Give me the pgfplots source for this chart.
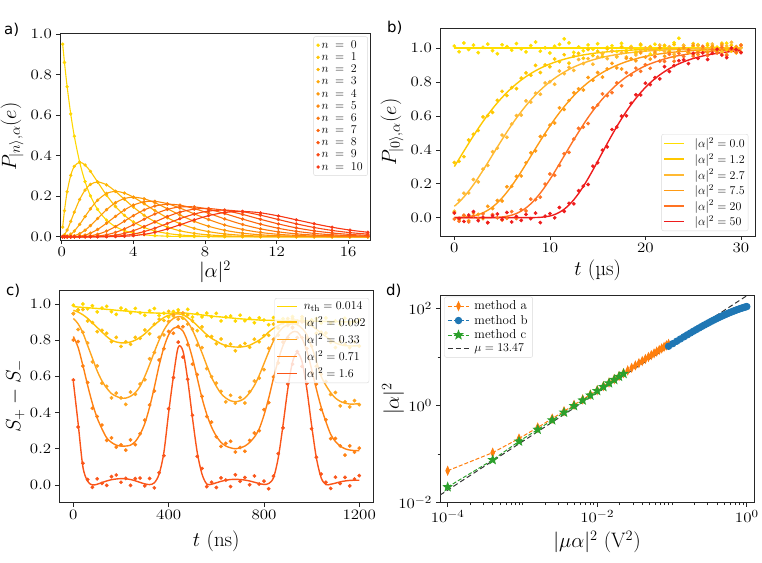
\documentclass[border=0pt]{standalone}
\usepackage{pgfplots}
\pgfplotsset{compat=1.18}
\usepackage{pgfplotstable}
\usepackage{fontspec}
\newfontfamily\labelfont{DejaVu Sans}

\definecolor{ca0}{RGB}{255,215,0}
\definecolor{ca1}{RGB}{255,199,2}
\definecolor{ca2}{RGB}{254,183,4}
\definecolor{ca3}{RGB}{254,167,6}
\definecolor{ca4}{RGB}{253,151,8}
\definecolor{ca5}{RGB}{253,135,10}
\definecolor{ca6}{RGB}{252,119,12}
\definecolor{ca7}{RGB}{252,103,14}
\definecolor{ca8}{RGB}{251,87,16}
\definecolor{ca9}{RGB}{250,71,18}
\definecolor{ca10}{RGB}{248,55,20}
\definecolor{cb0}{RGB}{255,222,0}
\definecolor{cb1}{RGB}{255,200,0}
\definecolor{cb2}{RGB}{255,185,50}
\definecolor{cb3}{RGB}{255,155,20}
\definecolor{cb4}{RGB}{255,115,35}
\definecolor{cb5}{RGB}{238,28,28}
\definecolor{cc0}{RGB}{255,215,0}
\definecolor{cc1}{RGB}{255,192,10}
\definecolor{cc2}{RGB}{255,165,30}
\definecolor{cc3}{RGB}{255,130,20}
\definecolor{cc4}{RGB}{250,85,25}
\definecolor{tabblue}{HTML}{1F77B4}
\definecolor{taborange}{HTML}{FF7F0E}
\definecolor{tabgreen}{HTML}{2CA02C}

\pgfdeclareplotmark{fstar}{%
 \pgfpathmoveto{\pgfpointpolar{90}{\pgfplotmarksize}}%
 \pgfpathlineto{\pgfpointpolar{126}{0.42*\pgfplotmarksize}}%
 \pgfpathlineto{\pgfpointpolar{162}{\pgfplotmarksize}}%
 \pgfpathlineto{\pgfpointpolar{198}{0.42*\pgfplotmarksize}}%
 \pgfpathlineto{\pgfpointpolar{234}{\pgfplotmarksize}}%
 \pgfpathlineto{\pgfpointpolar{270}{0.42*\pgfplotmarksize}}%
 \pgfpathlineto{\pgfpointpolar{306}{\pgfplotmarksize}}%
 \pgfpathlineto{\pgfpointpolar{342}{0.42*\pgfplotmarksize}}%
 \pgfpathlineto{\pgfpointpolar{18}{\pgfplotmarksize}}%
 \pgfpathlineto{\pgfpointpolar{54}{0.42*\pgfplotmarksize}}%
 \pgfpathclose\pgfusepathqfillstroke}

\pgfplotsset{
 myax/.style={scale only axis, anchor=south west,
  axis line style={line width=0.6pt, black!85},
  tick style={line width=0.6pt, black!85},
  tick align=outside, tick pos=left,
  major tick length=4bp, minor tick length=2.5bp,
  ticklabel style={font=\fontsize{15}{17}\selectfont, xscale=1.18},
  /pgf/number format/set thousands separator={},
  label style={font=\fontsize{21}{24}\selectfont, inner sep=0pt},
  legend cell align=left,
  legend style={font=\fontsize{13}{15}\selectfont, draw=black!15, rounded corners=2pt, fill=white}},
 dec1/.style={yticklabel style={/pgf/number format/.cd, fixed, fixed zerofill, precision=1}},
}

% panel a: Poisson-like populations
\pgfplotstableread{
x p0 p1 p2 p3 p4 p5 p6 p7 p8 p9 p10
0.05 .9512 .0476 .0012 0 0 0 0 0 0 0 0
0.15 .8607 .1291 .0097 .0005 0 0 0 0 0 0 0
0.3 .7408 .2222 .0333 .0033 .0003 0 0 0 0 0 0
0.5 .6065 .3033 .0758 .0126 .0016 .0002 0 0 0 0 0
0.7 .4966 .3476 .1217 .0284 .0050 .0007 .0001 0 0 0 0
1.0 .3679 .3679 .1839 .0613 .0153 .0031 .0005 .0001 0 0 0
1.3 .2725 .3543 .2303 .0998 .0324 .0084 .0018 .0003 .0001 0 0
1.6 .2019 .3230 .2584 .1378 .0551 .0176 .0047 .0011 .0002 0 0
2.0 .1353 .2707 .2707 .1804 .0902 .0361 .0120 .0034 .0009 .0002 0
2.5 .0821 .2052 .2565 .2138 .1336 .0668 .0278 .0099 .0031 .0009 .0002
3.0 .0498 .1494 .2240 .2240 .1680 .1008 .0504 .0216 .0081 .0027 .0008
3.5 .0302 .1057 .1850 .2158 .1888 .1322 .0771 .0385 .0169 .0066 .0023
4.0 .0183 .0733 .1465 .1954 .1954 .1563 .1042 .0595 .0298 .0132 .0053
4.6 .0100 .0462 .1063 .1631 .1875 .1725 .1323 .0869 .0500 .0255 .0118
5.2 .0055 .0287 .0746 .1293 .1681 .1748 .1515 .1125 .0731 .0423 .0220
5.9 .0027 .0162 .0477 .0938 .1383 .1632 .1605 .1352 .0997 .0654 .0386
6.6 .0014 .0090 .0296 .0652 .1075 .1419 .1561 .1472 .1215 .0891 .0588
7.4 .0006 .0045 .0167 .0413 .0763 .1130 .1393 .1473 .1363 .1120 .0829
8.2 .0003 .0023 .0092 .0253 .0518 .0850 .1161 .1360 .1394 .1270 .1042
9.1 .0001 .0010 .0046 .0140 .0319 .0581 .0881 .1145 .1302 .1317 .1198
10.1 0 .0004 .0021 .0071 .0178 .0360 .0606 .0874 .1104 .1239 .1251
11.1 0 .0002 .0009 .0034 .0096 .0212 .0392 .0622 .0863 .1064 .1182
12.1 0 .0001 .0004 .0016 .0050 .0120 .0242 .0418 .0633 .0851 .1029
13.1 0 0 .0002 .0008 .0025 .0066 .0143 .0268 .0439 .0639 .0837
14.1 0 0 .0001 .0004 .0012 .0035 .0082 .0165 .0292 .0457 .0644
15.1 0 0 0 .0002 .0006 .0018 .0046 .0098 .0186 .0312 .0470
16.1 0 0 0 .0001 .0003 .0009 .0025 .0057 .0114 .0204 .0328
17.1 0 0 0 0 .0001 .0005 .0013 .0032 .0068 .0129 .0221
}\tabA

% panel b: f = fit, d = data
\pgfplotstableread{
t f0 d0 f1 d1 f2 d2 f3 d3 f4 d4 f5 d5
0 1 1.012 .3012 .325 .0672 .038 .0006 .029 0 -.008 0 .027
0.5 1 .979 .3468 .332 .0923 .103 .0013 -.012 0 -.021 0 -.004
1 1 1.030 .3928 .360 .1221 .144 .0029 .013 0 .014 0 -.022
1.5 1 .992 .4383 .458 .1563 .146 .0058 -.018 0 -.025 0 .015
2 1 1.018 .4830 .492 .1944 .225 .0106 .028 0 .011 0 .036
2.5 1 .973 .5260 .514 .2357 .211 .0180 .019 0 -.006 0 -.018
3 1 1.005 .5673 .594 .2794 .286 .0289 -.006 .0001 .023 0 .002
3.5 1 1.024 .6063 .602 .3244 .308 .0438 .067 .0003 -.029 0 -.029
4 1 .985 .6431 .621 .3703 .389 .0633 .054 .0009 .018 0 .011
4.5 1 .967 .6773 .692 .4162 .410 .0876 .101 .0020 -.001 0 .022
5 1 1.020 .7091 .745 .4613 .487 .1166 .098 .0043 -.014 0 -.010
5.5 1 1.009 .7383 .720 .5053 .474 .1502 .182 .0083 -.004 0 .031
6 1 .988 .7651 .767 .5475 .552 .1877 .185 .0149 .036 0 -.025
6.5 1 1.027 .7896 .761 .5877 .602 .2283 .244 .0248 -.005 0 .007
7 1 .996 .8117 .823 .6254 .605 .2715 .246 .0389 .047 0 -.016
7.5 1 .978 .8319 .854 .6609 .689 .3164 .324 .0578 .040 0 .019
8 1 1.015 .8501 .840 .6940 .681 .3624 .383 .0818 .109 .0003 -.006
8.5 1 1.036 .8665 .898 .7244 .734 .4084 .394 .1110 .106 .0009 .027
9 1 .982 .8812 .856 .7523 .728 .4536 .479 .1451 .121 .0022 -.029
9.5 1 1.002 .8944 .901 .7779 .795 .4978 .487 .1834 .198 .0050 .009
10 1 .971 .9062 .890 .8012 .802 .5402 .546 .2254 .258 .0101 .024
10.5 1 1.011 .9168 .936 .8224 .787 .5810 .558 .2704 .250 .0186 -.001
11 1 1.022 .9262 .920 .8416 .865 .6192 .648 .3173 .308 .0317 .060
11.5 1 1.055 .9345 .961 .8587 .850 .6551 .638 .3650 .377 .0501 .037
12 1 1.031 .9420 .911 .8742 .887 .6883 .691 .4123 .385 .0747 .085
12.5 1 .975 .9487 .953 .8882 .869 .7194 .737 .4593 .463 .1055 .082
13 1 1.007 .9545 .969 .9005 .933 .7475 .760 .5046 .527 .1423 .159
13.5 1 .984 .9598 .940 .9118 .909 .7738 .753 .5488 .534 .1845 .186
14 1 1.019 .9644 .992 .9217 .938 .7973 .827 .5910 .555 .2310 .196
14.5 1 .994 .9686 .956 .9307 .905 .8191 .811 .6300 .648 .2808 .304
15 1 1.026 .9722 .982 .9385 .947 .8384 .856 .6663 .664 .3326 .324
15.5 1 .969 .9754 .951 .9456 .967 .8562 .829 .7005 .730 .3851 .398
16 1 1.004 .9782 .995 .9518 .938 .8717 .877 .7305 .720 .4373 .418
16.5 1 1.014 .9807 .982 .9572 .982 .8856 .910 .7588 .737 .4880 .520
17 1 .980 .9830 .948 .9621 .951 .8983 .883 .7851 .795 .5370 .534
17.5 1 1.028 .9850 1.008 .9666 .973 .9098 .877 .8090 .778 .5833 .599
18 1 .987 .9868 .978 .9705 .948 .9201 .940 .8303 .855 .6267 .601
18.5 1 1.010 .9883 1.001 .9737 1.003 .9291 .938 .8487 .842 .6669 .675
19 1 .976 .9897 .971 .9768 .960 .9368 .925 .8659 .882 .7038 .725
19.5 1 1.017 .9909 1.023 .9795 .983 .9446 .972 .8816 .863 .7376 .724
20 1 1.001 .9920 .989 .9821 1.000 .9510 .947 .8958 .902 .7681 .793
20.5 1 .965 .9929 1.009 .9841 .996 .9565 .935 .9072 .881 .7956 .785
21 1 1.023 .9937 .968 .9861 .965 .9618 .977 .9176 .949 .8201 .826
21.5 1 .991 .9944 1.002 .9876 1.018 .9660 1.002 .9270 .923 .8421 .819
22 1 1.013 .9951 1.016 .9890 .981 .9697 .952 .9361 .922 .8616 .891
22.5 1 .981 .9957 .982 .9902 1.008 .9731 .975 .9438 .964 .8789 .862
23 1 1.032 .9962 1.021 .9914 .964 .9763 .947 .9512 .923 .8940 .897
23.5 1 1.058 .9966 .986 .9923 .997 .9790 .990 .9560 .969 .9075 .926
24 1 1.016 .9970 1.003 .9932 1.017 .9814 1.003 .9608 .951 .9193 .931
24.5 1 .974 .9973 .974 .9941 .979 .9837 .974 .9658 .990 .9297 .909
25 1 1.008 .9976 1.027 .9949 .962 .9858 1.017 .9704 .953 .9387 .969
25.5 1 1.021 .9978 .981 .9954 1.015 .9874 .962 .9735 .973 .9465 .939
26 1 .986 .9982 1.001 .9959 1.005 .9888 .996 .9763 1.011 .9536 .972
26.5 1 1.025 .9984 1.016 .9964 .984 .9899 .974 .9793 .956 .9596 .933
27 1 .989 .9986 1.011 .9968 1.024 .9910 1.010 .9822 .991 .9649 .970
27.5 1 1.006 .9987 .978 .9972 .993 .9921 .986 .9842 .971 .9695 .994
28 1 .977 .9989 1.029 .9976 .976 .9932 1.019 .9861 1.005 .9735 .959
28.5 1 1.029 .9990 .991 .9979 1.013 .9940 .963 .9877 .956 .9769 .944
29 1 .983 .9991 1.017 .9981 1.034 .9947 .999 .9893 .992 .9800 1.000
29.5 1 1.003 .9992 .972 .9983 .980 .9953 1.009 .9906 .975 .9826 .992
30 1 1.018 .9993 1.004 .9985 1.001 .9959 .976 .9918 1.018 .9849 .973
}\tabB

% panel c: f = fit, d = data
\pgfplotstableread{
t f0 d0 f1 d1 f2 d2 f3 d3 f4 d4
0 .985 .993 .965 .947 .92 .946 .82 .801 .57 .58
20 .983 .968 .955 .967 .89 .859 .76 .792 .34 .32
40 .981 1.0 .94 .969 .84 .844 .66 .657 .10 .12
60 .979 .973 .92 .906 .77 .784 .55 .566 .02 .03
80 .977 .990 .895 .897 .70 .680 .45 .424 0 -.013
100 .975 .956 .87 .847 .63 .658 .37 .378 .004 .034
120 .973 .977 .845 .854 .575 .562 .31 .331 .013 .009
140 .970 .987 .82 .838 .535 .545 .26 .246 .022 -.002
160 .968 .957 .80 .792 .505 .481 .235 .260 .029 .046
180 .965 .942 .79 .815 .49 .507 .22 .209 .033 .055
200 .963 .977 .785 .765 .48 .481 .215 .221 .035 .015
220 .961 .967 .785 .791 .48 .445 .215 .192 .034 .036
240 .959 .951 .79 .777 .49 .513 .22 .249 .030 -.002
260 .956 .975 .80 .815 .51 .501 .24 .223 .023 .035
280 .954 .951 .815 .810 .545 .558 .28 .283 .014 .038
300 .952 .937 .835 .856 .60 .581 .34 .358 .006 -.005
320 .951 .962 .86 .835 .665 .697 .43 .442 .002 .036
340 .950 .975 .885 .888 .735 .732 .54 .519 .012 -.016
360 .949 .936 .905 .916 .80 .816 .66 .690 .06 .068
380 .948 .949 .925 .909 .855 .829 .76 .752 .18 .162
400 .948 .928 .937 .959 .895 .903 .83 .848 .40 .421
420 .950 .958 .943 .933 .92 .941 .865 .838 .60 .593
440 .952 .967 .945 .953 .93 .916 .87 .875 .76 .789
460 .951 .944 .94 .921 .925 .950 .85 .874 .74 .706
480 .948 .970 .925 .939 .90 .889 .79 .775 .58 .584
500 .945 .927 .905 .906 .855 .861 .70 .667 .37 .385
520 .942 .947 .88 .852 .795 .772 .59 .610 .18 .158
540 .939 .928 .855 .873 .73 .759 .48 .489 .06 .091
560 .936 .949 .83 .823 .66 .643 .39 .378 .005 -.009
580 .933 .929 .81 .820 .595 .598 .32 .347 .004 .015
600 .930 .948 .795 .780 .545 .563 .27 .266 .012 -.014
620 .928 .906 .78 .806 .505 .517 .235 .213 .02 .039
640 .925 .928 .77 .768 .48 .459 .215 .230 .026 .027
660 .923 .933 .765 .778 .465 .495 .205 .241 .03 -.009
680 .920 .906 .762 .741 .46 .452 .20 .182 .031 .056
700 .918 .938 .762 .768 .465 .483 .205 .207 .03 .020
720 .916 .907 .765 .782 .48 .453 .215 .186 .027 .041
740 .914 .921 .772 .761 .51 .515 .235 .246 .022 .001
760 .913 .896 .785 .805 .55 .574 .265 .287 .015 .050
780 .911 .923 .80 .791 .605 .590 .31 .300 .008 .005
800 .910 .911 .82 .825 .67 .637 .385 .416 .003 .021
820 .910 .885 .845 .827 .735 .755 .48 .455 .008 -.021
840 .909 .925 .865 .888 .795 .804 .59 .597 .04 .049
860 .909 .903 .88 .866 .84 .828 .69 .674 .15 .173
880 .909 .918 .895 .897 .87 .897 .77 .789 .33 .315
900 .908 .895 .905 .919 .885 .881 .82 .814 .53 .558
920 .908 .930 .91 .920 .89 .868 .845 .871 .68 .668
940 .907 .905 .91 .893 .885 .900 .845 .814 .73 .737
960 .906 .917 .905 .929 .865 .901 .81 .814 .68 .655
980 .906 .888 .895 .889 .83 .812 .74 .754 .53 .562
1000 .905 .911 .88 .894 .765 .767 .64 .620 .33 .311
1020 .905 .920 .86 .838 .685 .656 .53 .558 .15 .153
1040 .904 .894 .84 .844 .60 .611 .43 .417 .04 .060
1060 .904 .922 .82 .839 .55 .572 .35 .360 .002 .015
1080 .903 .895 .80 .788 .51 .500 .28 .256 .004 -.019
1100 .902 .906 .785 .759 .48 .511 .24 .257 .01 .043
1120 .902 .886 .775 .791 .462 .437 .215 .216 .017 .008
1140 .901 .921 .77 .777 .452 .459 .20 .165 .022 .042
1160 .901 .889 .768 .758 .447 .431 .193 .216 .025 -.005
1180 .900 .902 .768 .790 .447 .466 .19 .181 .026 .032
1200 .900 .913 .77 .767 .45 .444 .19 .203 .026 .052
}\tabC

% panel d
\pgfplotstableread{
x y
0.0001 0.0455
0.0004 0.107
0.0009 0.2095
0.0016 0.353
0.0025 0.538
0.0036 0.763
0.0049 1.030
0.0064 1.337
0.0081 1.686
0.0100 2.075
0.0121 2.506
0.0144 2.977
0.0169 3.490
0.0196 4.043
0.0225 4.638
0.0256 5.273
0.0289 5.950
0.0324 6.667
0.0361 7.425
0.0400 8.225
0.0441 9.066
0.0484 9.947
0.0529 10.87
0.0576 11.83
0.0625 12.84
0.0676 13.88
0.0729 14.97
0.0784 16.10
0.0841 17.27
0.0900 18.48
}\tabDa
\pgfplotstableread{
x y
0.09 16.56
0.1024 18.73
0.1156 21.01
0.1296 23.39
0.1444 25.87
0.16 28.43
0.1764 31.07
0.1936 33.79
0.2116 36.56
0.2304 39.39
0.25 42.27
0.2704 45.19
0.2916 48.13
0.3136 51.10
0.3364 54.08
0.36 57.06
0.3844 60.04
0.4096 63.01
0.4356 65.97
0.4624 68.90
0.49 71.80
0.5184 74.66
0.5476 77.48
0.5776 80.26
0.6084 82.98
0.64 85.64
0.6724 88.25
0.7056 90.79
0.7396 93.27
0.7744 95.67
0.81 98.01
0.8464 100.27
0.8836 102.46
0.9216 104.57
0.9604 106.61
1.0 108.57
}\tabDb
\pgfplotstableread{
x y
0.0001 0.021
0.0004 0.076
0.0009 0.183
0.0016 0.32
0.0025 0.50
0.0036 0.72
0.0049 0.98
0.0064 1.28
0.0081 1.62
0.0100 2.00
0.0121 2.42
0.0144 2.88
0.0169 3.38
0.0196 3.92
0.0225 4.50
}\tabDc

\begin{document}
\begin{tikzpicture}[x=1bp,y=1bp]
\useasboundingbox (0,0) rectangle (762,563);

% ---------------- a)
\begin{axis}[myax, dec1, at={(60bp,323bp)}, width=310bp, height=206.7bp,
  xmin=-0.1, xmax=17.22, ymin=-0.016, ymax=1.005,
  xtick={0,4,8,12,16}, ytick={0,0.2,0.4,0.6,0.8,1.0},
  xlabel={$|\alpha|^2$}, ylabel={$P_{|n\rangle,\alpha}(e)$},
  xlabel style={at={(axis description cs:0.5,-0.155)}, anchor=center},
  ylabel style={at={(axis description cs:-0.1548,0.5)}, anchor=center},
  legend style={at={(axis description cs:0.993,0.985)}, anchor=north east,
    font=\fontsize{12}{13}\selectfont, row sep=-1bp}]
\pgfplotsinvokeforeach{0,...,10}{
  \addplot[only marks, mark=*, mark size=1.5bp, color=ca#1] table[x=x, y=p#1] {\tabA};
  \addlegendentry{$n\;=\;#1$}
  \addplot[forget plot, smooth, line width=1.1bp, color=ca#1] table[x=x, y=p#1] {\tabA};
}
\end{axis}

% ---------------- b)
\begin{axis}[myax, dec1, at={(440bp,327bp)}, width=315.3bp, height=207.7bp,
  xmin=-1.5, xmax=31.5, ymin=-0.108, ymax=1.117,
  xtick={0,10,20,30}, ytick={0,0.2,0.4,0.6,0.8,1.0},
  xlabel={$t$ (µs)}, ylabel={$P_{|0\rangle,\alpha}(e)$},
  xlabel style={at={(axis description cs:0.5,-0.1637)}, anchor=center},
  ylabel style={at={(axis description cs:-0.1522,0.5)}, anchor=center},
  legend image code/.code={\draw[#1, line width=1.6bp] (0bp,0bp) -- (20bp,0bp);},
  legend style={at={(axis description cs:0.978,0.024)}, anchor=south east,
    inner sep=1.5bp, row sep=0bp, /tikz/every odd column/.append style={column sep=8bp}}]
\pgfplotsinvokeforeach{0,...,5}{
  \addplot[forget plot, only marks, mark=*, mark size=1.7bp, color=cb#1] table[x=t, y=d#1] {\tabB};
}
\addplot[smooth, line width=1.4bp, color=cb0] table[x=t, y=f0] {\tabB};
\addlegendentry{$|\alpha|^2=0.0$}
\addplot[smooth, line width=1.4bp, color=cb1] table[x=t, y=f1] {\tabB};
\addlegendentry{$|\alpha|^2=1.2$}
\addplot[smooth, line width=1.4bp, color=cb2] table[x=t, y=f2] {\tabB};
\addlegendentry{$|\alpha|^2=2.7$}
\addplot[smooth, line width=1.4bp, color=cb3] table[x=t, y=f3] {\tabB};
\addlegendentry{$|\alpha|^2=7.5$}
\addplot[smooth, line width=1.4bp, color=cb4] table[x=t, y=f4] {\tabB};
\addlegendentry{$|\alpha|^2=20$}
\addplot[smooth, line width=1.4bp, color=cb5] table[x=t, y=f5] {\tabB};
\addlegendentry{$|\alpha|^2=50$}
\end{axis}

% ---------------- c)
\begin{axis}[myax, dec1, at={(59.3bp,60.3bp)}, width=314bp, height=212.7bp,
  xmin=-59, xmax=1259, ymin=-0.098, ymax=1.077,
  xtick={0,400,800,1200}, ytick={0,0.2,0.4,0.6,0.8,1.0},
  xlabel={$t$ (ns)}, ylabel={$S_+ - S_-$},
  xlabel style={at={(axis description cs:0.5,-0.181)}, anchor=center},
  ylabel style={at={(axis description cs:-0.140,0.5)}, anchor=center},
  legend image code/.code={\draw[#1, line width=1.6bp] (0bp,0bp) -- (20bp,0bp);},
  legend style={at={(axis description cs:0.987,0.962)}, anchor=north east,
    inner sep=1.5bp, row sep=1.5bp, /tikz/every odd column/.append style={column sep=4bp},
    fill opacity=0.8, text opacity=1, draw opacity=1}]
\pgfplotsinvokeforeach{0,...,4}{
  \addplot[forget plot, only marks, mark=*, mark size=1.7bp, color=cc#1] table[x=t, y=d#1] {\tabC};
}
\addplot[smooth, line width=1.4bp, color=cc0] table[x=t, y=f0] {\tabC};
\addlegendentry{$n_{\mathrm{th}}=0.014$}
\addplot[smooth, line width=1.4bp, color=cc1] table[x=t, y=f1] {\tabC};
\addlegendentry{$|\alpha|^2=0.092$}
\addplot[smooth, line width=1.4bp, color=cc2] table[x=t, y=f2] {\tabC};
\addlegendentry{$|\alpha|^2=0.33$}
\addplot[smooth, line width=1.4bp, color=cc3] table[x=t, y=f3] {\tabC};
\addlegendentry{$|\alpha|^2=0.71$}
\addplot[smooth, line width=1.4bp, color=cc4] table[x=t, y=f4] {\tabC};
\addlegendentry{$|\alpha|^2=1.6$}
\end{axis}

% ---------------- d)
\begin{axis}[myax, xmode=log, ymode=log, at={(440bp,60.3bp)}, width=314bp, height=207.7bp,
  xmin=7.9e-5, xmax=1.25, ymin=0.01, ymax=188,
  xtick={1e-4,1e-2,1}, ytick={1e-2,1,1e2},
  minor xtick={2e-4,3e-4,4e-4,5e-4,6e-4,7e-4,8e-4,9e-4,1e-3,2e-3,3e-3,4e-3,5e-3,6e-3,7e-3,8e-3,9e-3,2e-2,3e-2,4e-2,5e-2,6e-2,7e-2,8e-2,9e-2,1e-1,2e-1,3e-1,4e-1,5e-1,6e-1,7e-1,8e-1,9e-1},
  minor ytick={1e-1,1e1},
  xlabel={$|\mu\alpha|^2$ (V$^2$)}, ylabel={$|\alpha|^2$},
  xlabel style={at={(axis description cs:0.5,-0.190)}, anchor=center},
  ylabel style={at={(axis description cs:-0.1497,0.5)}, anchor=center},
  legend image code/.code={\draw[mark repeat=2, mark phase=2, #1] plot coordinates {(0bp,0bp) (10.5bp,0bp) (21bp,0bp)};},
  legend style={at={(axis description cs:0.0137,0.992)}, anchor=north west,
    row sep=0bp, /tikz/every odd column/.append style={column sep=3bp}}]
\addplot[color=taborange, line width=1bp, dash pattern=on 4bp off 2bp, mark=diamond*, mark size=4bp, mark options={solid, xscale=0.6}] table[x=x,y=y] {\tabDa};
\addlegendentry{method a}
\addplot[color=tabblue, line width=1bp, dash pattern=on 4bp off 2bp, mark=*, mark size=3.2bp, mark options={solid}] table[x=x,y=y] {\tabDb};
\addlegendentry{method b}
\addplot[color=tabgreen, line width=1bp, dash pattern=on 4bp off 2bp, mark=fstar, mark size=4.2bp, mark options={solid}] table[x=x,y=y] {\tabDc};
\addlegendentry{method c}
\addplot[color=black!80, line width=1bp, dash pattern=on 5bp off 3bp] coordinates {(7.9e-5,0.01433) (1.0,181.4)};
\addlegendentry{$\mu=13.47$}
\end{axis}

\node[anchor=west, inner sep=0pt, font=\labelfont\fontsize{15}{18}\selectfont] at (4,533) {a)};
\node[anchor=west, inner sep=0pt, font=\labelfont\fontsize{15}{18}\selectfont] at (387,535.5) {b)};
\node[anchor=west, inner sep=0pt, font=\labelfont\fontsize{15}{18}\selectfont] at (6,272) {c)};
\node[anchor=west, inner sep=0pt, font=\labelfont\fontsize{15}{18}\selectfont] at (386,272.5) {d)};
\end{tikzpicture}
\end{document}
